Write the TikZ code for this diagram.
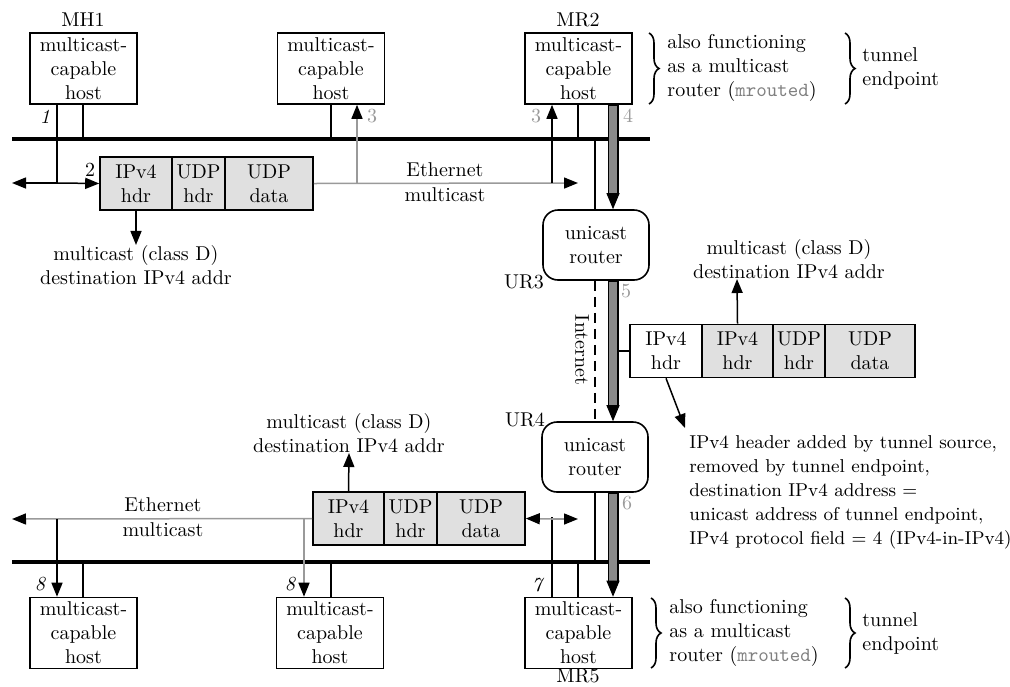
\documentclass[tikz,border=0pt]{standalone}
\usetikzlibrary{arrows.meta,decorations.pathreplacing}
\definecolor{lg}{HTML}{9A9A9A}
\definecolor{pf}{HTML}{E0E0E0}
\definecolor{pg}{HTML}{8A8A8A}
\begin{document}
\begin{tikzpicture}[x=0.5pt,y=-0.5pt, font=\fontsize{10}{12}\selectfont,
 host/.style={draw, line width=0.8pt, minimum width=53.5pt, minimum height=35.5pt, inner sep=0pt, align=center},
 router/.style={draw, line width=0.8pt, rounded corners=7.5pt, minimum width=53pt, minimum height=35pt, inner sep=0pt, align=center},
 cell/.style={draw, line width=0.8pt, fill=pf, minimum height=26.5pt, inner sep=0pt, align=center},
 bus/.style={line width=2pt},
 tap/.style={line width=0.75pt},
 gline/.style={line width=0.75pt, draw=lg},
 arr/.style={-{Triangle[length=7pt,width=5.5pt,color=black]}},
 lbl/.style={inner sep=0pt},
 num/.style={inner sep=0pt, font=\fontsize{10}{12}\selectfont\itshape},
 gnum/.style={inner sep=0pt, text=lg},
 txt/.style={inner sep=0pt, align=center},
 ltxt/.style={inner sep=0pt, align=left},
 brc/.style={decorate, decoration={brace, amplitude=5pt}, line width=0.8pt}
]
\useasboundingbox (0,0) rectangle (1010,686);

% buses
\coordinate (busTl) at (12,139);
\coordinate (busTr) at (650,139);
\coordinate (busBl) at (12,562);
\coordinate (busBr) at (650,562);
\draw[bus] (busTl) -- (busTr);
\draw[bus] (busBl) -- (busBr);

% hosts
\node[host] (mh1) at (83.5,68.5) {multicast-\\capable\\host};
\node[host] (h2) at (331,68.5) {multicast-\\capable\\host};
\node[host] (mr2) at (578.5,68.5) {multicast-\\capable\\host};
\node[host] (h7) at (83.5,633) {multicast-\\capable\\host};
\node[host] (h8) at (330,633) {multicast-\\capable\\host};
\node[host] (mr5) at (578.5,633) {multicast-\\capable\\host};
\node[lbl] (lmh1) at (83,20) {MH1};
\node[lbl] (lmr2) at (578,20) {MR2};
\node[lbl] (lmr5) at (578,676) {MR5};

% routers
\node[router] (ur3) at (596,245) {unicast\\router};
\node[router] (ur4) at (595,457) {unicast\\router};
\node[lbl] (lur3) at (524,282) {UR3};
\node[lbl] (lur4) at (525,420) {UR4};

% packets
\node[cell, minimum width=36pt] (p1a) at (136,183.5) {IPv4\\hdr};
\node[cell, minimum width=26.5pt] (p1b) at (198.5,183.5) {UDP\\hdr};
\node[cell, minimum width=44pt] (p1c) at (269,183.5) {UDP\\data};

\node[cell, fill=white, minimum width=36pt] (t1) at (666,351) {IPv4\\hdr};
\node[cell, minimum width=35.5pt] (t2) at (737.5,351) {IPv4\\hdr};
\node[cell, minimum width=26pt] (t3) at (799,351) {UDP\\hdr};
\node[cell, minimum width=45pt] (t4) at (870,351) {UDP\\data};

\node[cell, minimum width=35.5pt] (p2a) at (348.5,518.5) {IPv4\\hdr};
\node[cell, minimum width=26.5pt] (p2b) at (410.5,518.5) {UDP\\hdr};
\node[cell, minimum width=44pt] (p2c) at (481,518.5) {UDP\\data};

% host taps on the buses
\draw[tap] (83,0 |- mh1.south) -- (83,0 |- busTl);
\draw[tap] (331,0 |- h2.south) -- (331,0 |- busTl);
\draw[tap] (578,0 |- mr2.south) -- (578,0 |- busTl);
\draw[tap] (595,0 |- busTl) -- (595,0 |- ur3.north);
\draw[tap] (83,0 |- busBl) -- (83,0 |- h7.north);
\draw[tap] (331,0 |- busBl) -- (331,0 |- h8.north);
\draw[tap] (578,0 |- busBl) -- (578,0 |- mr5.north);
\draw[tap] (595,0 |- ur4.south) -- (595,0 |- busBl);

% top: MH1 sends (1, 2)
\coordinate (j1) at (57,183);
\coordinate (l1) at (12,183);
\draw[tap] (57,0 |- mh1.south) -- (j1);
\draw[tap, arr] (j1) -- (l1);
\draw[tap, arr] (j1) -- (p1a.west);
\node[num] (n1) at (45,117) {1};
\node[lbl] (n2) at (90,170) {2};

% top: ethernet multicast (3)
\coordinate (r1) at (578,183);
\draw[gline, arr] (p1c.east) -- (r1);
\draw[gline, arr] (357,183) -- (357,0 |- h2.south);
\draw[tap, arr] (552,183) -- (552,0 |- mr2.south);
\node[gnum] (n3a) at (372,116) {3};
\node[gnum] (n3b) at (536,116) {3};
\node[gnum] (n4) at (628,116) {4};
\node[lbl] (eth1) at (445,170) {Ethernet};
\node[lbl] (eth1b) at (445,195) {multicast};

% class D labels
\node[txt] (cd1) at (136,265) {multicast (class D)\\destination IPv4 addr};
\draw[tap, arr] (p1a.south) -- (cd1.north);
\node[txt] (cd2) at (789,259) {multicast (class D)\\destination IPv4 addr};
\draw[tap, arr] (t2.north) -- (737,0 |- cd2.south);
\node[txt] (cd3) at (349,433) {multicast (class D)\\destination IPv4 addr};
\draw[tap, arr] (p2a.north) -- (cd3.south);

% tunnel
\draw[tap, dash pattern=on 5pt off 3pt] (595,0 |- ur3.south) -- (595,0 |- ur4.north);
\node[lbl, rotate=-90] (inet) at (582,350) {Internet};
\foreach \a/\b in {mr2/ur3,ur3/ur4,ur4/mr5}{
  \draw[line width=5.5pt, shorten >=7pt] (613,0 |- \a.south) -- (613,0 |- \b.north);
  \draw[line width=4pt, draw=pg, shorten >=7.75pt, shorten <=0.75pt] (613,0 |- \a.south) -- (613,0 |- \b.north);
  \draw[-{Triangle[length=8pt,width=6.5pt]}, line width=0.5pt] (613,0 |- \b.north) ++(0,-16) -- (613,0 |- \b.north);
}
\draw[tap] (618,0 |- t1.west) -- (t1.west);
\node[gnum] (n5) at (626,291) {5};
\node[gnum] (n6) at (627,503) {6};

\node[ltxt, anchor=west, font=\fontsize{9.3}{12}\selectfont] (note) at (689,492) {IPv4 header added by tunnel source,\\removed by tunnel endpoint,\\destination IPv4 address =\\unicast address of tunnel endpoint,\\IPv4 protocol field = 4 (IPv4-in-IPv4)};
\coordinate (nt) at (685,428);
\draw[tap, arr] (666,0 |- t1.south) -- (nt);

% bottom: ethernet multicast (7, 8)
\coordinate (l2) at (12,519);
\draw[gline, arr] (p2a.west) -- (l2);
\draw[tap, arr] (57,519) -- (57,0 |- h7.north);
\draw[gline, arr] (304,519) -- (304,0 |- h8.north);
\coordinate (j7) at (552,519);
\coordinate (r2) at (578,519);
\draw[tap] (552,0 |- mr5.north) -- (552,517);
\draw[gline, arr] (j7) -- (p2c.east);
\draw[gline, arr] (j7) -- (r2);
\node[num] (n7) at (537,585) {7};
\node[num] (n8a) at (40,584) {8};
\node[num] (n8b) at (290,584) {8};
\node[lbl] (eth2) at (163,505) {Ethernet};
\node[lbl] (eth2b) at (163,530) {multicast};

% braces and notes
\draw[brc] (649,33) -- (649,104);
\node[ltxt, anchor=west] (also1) at (667,68) {also functioning\\as a multicast\\router (\textcolor{gray}{\texttt{mrouted}})};
\draw[brc] (845,33) -- (845,104);
\node[ltxt, anchor=west] (te1) at (862,68) {tunnel\\endpoint};

\draw[brc] (651,598) -- (651,668);
\node[ltxt, anchor=west] (also2) at (669,633) {also functioning\\as a multicast\\router (\textcolor{gray}{\texttt{mrouted}})};
\draw[brc] (845,598) -- (845,668);
\node[ltxt, anchor=west] (te2) at (862,633) {tunnel\\endpoint};
\end{tikzpicture}
\end{document}
